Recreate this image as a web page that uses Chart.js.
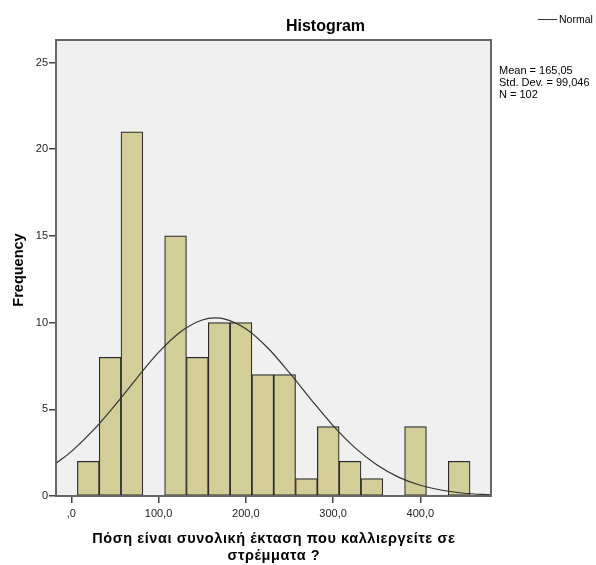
<!DOCTYPE html>
<html>
<head>
<meta charset="utf-8">
<script src="https://cdn.jsdelivr.net/npm/chart.js@4.4.1/dist/chart.umd.min.js"></script>
<style>
  html, body { margin: 0; padding: 0; background: #ffffff; }
  #wrap { width: 596px; height: 565px; position: relative; }
</style>
</head>
<body>
<div id="wrap"><canvas id="c" width="596" height="565"></canvas></div>
<script>
// Histogram bins (bin centres) and counts
const binCenters = [19.5, 44.5, 69.5, 94.5, 119.5, 144.5, 169.5, 194.5, 219.5, 244.5, 269.5, 294.5, 319.5, 344.5, 369.5, 394.5, 419.5, 444.5];
const binCounts  = [2, 8, 21, 0, 15, 8, 10, 10, 7, 7, 1, 4, 2, 1, 0, 4, 0, 2];

// Normal curve at these x positions
const curveX = [-17.5, 0, 25, 50, 75, 100, 125, 150, 165, 175, 200, 225, 250, 275, 300, 325, 350, 375, 400, 425, 450, 481];
const curveY = [1.88, 2.56, 3.78, 5.23, 6.79, 8.28, 9.46, 10.15, 10.27, 10.22, 9.65, 8.55, 7.11, 5.55, 4.06, 2.79, 1.80, 1.09, 0.62, 0.33, 0.16, 0.06];

// Axis ticks
const xTickValues = [0, 100, 200, 300, 400];
const xTickLabels = [',0', '100,0', '200,0', '300,0', '400,0'];
const yTickValues = [0, 5, 10, 15, 20, 25];
const yTickLabels = ['0', '5', '10', '15', '20', '25'];

const titleText = 'Histogram';
const xTitle = ['Πόση είναι συνολική έκταση που καλλιεργείτε σε', 'στρέμματα ?'];
const yTitle = 'Frequency';
const legendLabel = 'Normal';
const statsLines = ['Mean = 165,05', 'Std. Dev. = 99,046', 'N = 102'];

const FONT = "'Liberation Sans', Arial, sans-serif";

const barData = [];
binCenters.forEach((x, i) => { if (binCounts[i] > 0) barData.push({ x: x, y: binCounts[i] }); });
const curveData = curveX.map((x, i) => ({ x: x, y: curveY[i] }));

const decorPlugin = {
  id: 'decor',
  beforeDatasetsDraw(chart) {
    const { ctx, chartArea: a } = chart;
    ctx.save();
    ctx.fillStyle = '#f0f0f0';
    ctx.fillRect(a.left, a.top, a.right - a.left, a.bottom - a.top);
    ctx.restore();
  },
  afterDraw(chart) {
    const { ctx, chartArea: a } = chart;
    ctx.save();
    ctx.strokeStyle = '#666';
    ctx.lineWidth = 2;
    ctx.strokeRect(a.left, a.top, a.right - a.left, a.bottom - a.top);
    // title
    ctx.fillStyle = '#000';
    ctx.font = 'bold 16px ' + FONT;
    ctx.textAlign = 'center';
    ctx.textBaseline = 'alphabetic';
    ctx.fillText(titleText, 325.5, 31);
    // x axis title (two lines, slightly letter-spaced)
    ctx.font = 'bold 14.5px ' + FONT;
    const w0 = ctx.measureText(xTitle[0]).width;
    const ls = Math.max(0, (363 - w0) / xTitle[0].length);
    ctx.letterSpacing = ls.toFixed(2) + 'px';
    ctx.fillText(xTitle[0], (a.left + a.right) / 2 + ls / 2, 543);
    ctx.fillText(xTitle[1], (a.left + a.right) / 2 + ls / 2, 560);
    ctx.letterSpacing = '0px';
    // y axis title
    ctx.save();
    ctx.translate(22.5, (a.top + a.bottom) / 2 + 2);
    ctx.rotate(-Math.PI / 2);
    ctx.font = 'bold 14.5px ' + FONT;
    ctx.fillText(yTitle, 0, 0);
    ctx.restore();
    // legend
    ctx.strokeStyle = '#333';
    ctx.lineWidth = 1;
    ctx.beginPath();
    ctx.moveTo(538, 19.5);
    ctx.lineTo(557, 19.5);
    ctx.stroke();
    ctx.font = '10.5px ' + FONT;
    ctx.textAlign = 'left';
    ctx.textBaseline = 'middle';
    ctx.fillStyle = '#000';
    ctx.fillText(legendLabel, 559, 20);
    // stats
    ctx.font = '11px ' + FONT;
    statsLines.forEach((s, i) => ctx.fillText(s, 499, 70.5 + i * 12));
    ctx.restore();
  }
};

new Chart(document.getElementById('c'), {
  type: 'bar',
  data: {
    datasets: [
      {
        type: 'line',
        data: curveData,
        borderColor: '#333333',
        borderWidth: 1.2,
        pointRadius: 0,
        tension: 0.4,
        cubicInterpolationMode: 'monotone',
        fill: false,
        clip: 0,
        order: 0
      },
      {
        type: 'bar',
        data: barData,
        backgroundColor: '#d3ce97',
        borderColor: '#2a2a2a',
        borderWidth: 1.2,
        borderSkipped: false,
        barPercentage: 1.0,
        categoryPercentage: 1.0,
        order: 1
      }
    ]
  },
  options: {
    responsive: false,
    animation: false,
    devicePixelRatio: 1,
    layout: { padding: { left: 0, right: 105, top: 40, bottom: 0 } },
    plugins: { legend: { display: false }, tooltip: { enabled: false }, title: { display: false } },
    scales: {
      x: {
        type: 'linear',
        offset: false,
        min: -17.5,
        max: 481,
        afterBuildTicks(s) { s.ticks = xTickValues.map(v => ({ value: v })); },
        afterFit(s) { s.height = 69; },
        ticks: {
          autoSkip: false,
          maxRotation: 0,
          color: '#222',
          font: { family: FONT, size: 11 },
          padding: 4,
          callback: (v) => { const i = xTickValues.indexOf(v); return i >= 0 ? xTickLabels[i] : ''; }
        },
        grid: { offset: false, drawOnChartArea: false, drawTicks: true, tickLength: 7, color: '#444', lineWidth: 1.5 },
        border: { display: false },
        title: { display: false }
      },
      y: {
        type: 'linear',
        min: 0,
        max: 26.3,
        afterBuildTicks(s) { s.ticks = yTickValues.map(v => ({ value: v })); },
        afterFit(s) { s.width = 56; },
        ticks: {
          autoSkip: false,
          color: '#222',
          font: { family: FONT, size: 11 },
          padding: 1,
          callback: (v) => { const i = yTickValues.indexOf(v); return i >= 0 ? yTickLabels[i] : ''; }
        },
        grid: { drawOnChartArea: false, drawTicks: true, tickLength: 7, color: '#444', lineWidth: 1.5 },
        border: { display: false },
        title: { display: false }
      }
    }
  },
  plugins: [decorPlugin]
});
</script>
</body>
</html>
